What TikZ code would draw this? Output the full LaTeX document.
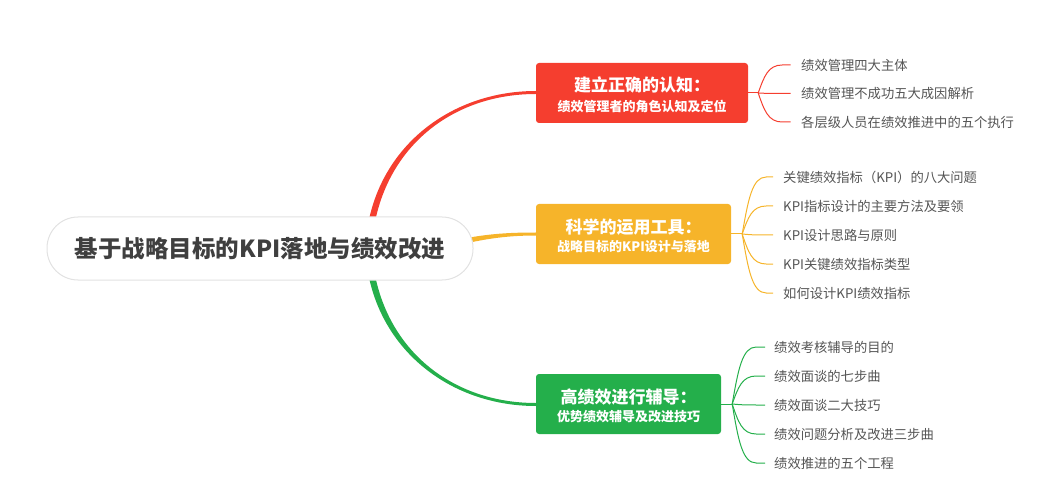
\documentclass[tikz,border=0pt]{standalone}
\usepackage{fontspec}
\setmainfont{Noto Sans CJK SC}
\usetikzlibrary{calc}
\pgfdeclarelayer{bg}
\pgfsetlayers{bg,main}
\definecolor{cred}{HTML}{F53E2F}
\definecolor{cyel}{HTML}{F6B42A}
\definecolor{cgrn}{HTML}{24AF4B}
\definecolor{rootborder}{HTML}{E2E2E2}
\definecolor{roottext}{HTML}{3F3F3F}
\definecolor{leaftext}{HTML}{555555}
\begin{document}
\begin{tikzpicture}[x=1pt,y=-1pt,
 rootbox/.style={draw=rootborder,line width=1pt,fill=white,rounded corners=31pt,minimum width=426pt,minimum height=63pt,inner sep=0pt,text=roottext,font=\bfseries\fontsize{23.5}{24}\selectfont},
 topicbox/.style={rounded corners=3pt,minimum height=60pt,inner sep=0pt},
 titletext/.style={text=white,font=\bfseries\fontsize{17}{17}\selectfont,inner sep=0pt},
 subtext/.style={text=white,font=\bfseries\fontsize{13}{13}\selectfont,inner sep=0pt},
 leaf/.style={text=leaftext,font=\fontsize{13.3}{13.3}\selectfont,inner sep=0pt,anchor=west},
 leafline/.style={line width=1pt}
]
\useasboundingbox (0,0) rectangle (1063,497);

% root
\node[rootbox] (root) at (260,248.5) {基于战略目标的KPI落地与绩效改进};

% topic boxes
\node[topicbox,fill=cred,minimum width=212pt] (rbox) at (642,93) {};
\node[titletext] (rt) at ([yshift=8]rbox.center) {建立正确的认知：};
\node[subtext] (rs) at ([yshift=-13]rbox.center) {绩效管理者的角色认知及定位};

\node[topicbox,fill=cyel,minimum width=195pt] (ybox) at (633.5,234) {};
\node[titletext] (yt) at ([yshift=7]ybox.center) {科学的运用工具：};
\node[subtext] (ys) at ([yshift=-13]ybox.center) {战略目标的KPI设计与落地};

\node[topicbox,fill=cgrn,minimum width=185pt] (gbox) at (628.5,404) {};
\node[titletext] (gt) at ([yshift=7]gbox.center) {高绩效进行辅导：};
\node[subtext] (gs) at ([yshift=-13]gbox.center) {优势绩效辅导及改进技巧};

% leaves
\node[leaf] (r1) at (801,65) {绩效管理四大主体};
\node[leaf] (r2) at (801,93.5) {绩效管理不成功五大成因解析};
\node[leaf] (r3) at (801,122) {各层级人员在绩效推进中的五个执行};

\node[leaf] (y1) at (783,177) {关键绩效指标（KPI）的八大问题};
\node[leaf] (y2) at (783,206) {KPI指标设计的主要方法及要领};
\node[leaf] (y3) at (783,235) {KPI设计思路与原则};
\node[leaf] (y4) at (783,264) {KPI关键绩效指标类型};
\node[leaf] (y5) at (783,293) {如何设计KPI绩效指标};

\node[leaf] (g1) at (774,347) {绩效考核辅导的目的};
\node[leaf] (g2) at (774,376) {绩效面谈的七步曲};
\node[leaf] (g3) at (774,405) {绩效面谈二大技巧};
\node[leaf] (g4) at (774,434) {绩效问题分析及改进三步曲};
\node[leaf] (g5) at (774,463) {绩效推进的五个工程};

\coordinate (rj) at ([xshift=10]rbox.east);
\coordinate (yj) at ([xshift=11]ybox.east);
\coordinate (gj) at ([xshift=11]gbox.east);

\begin{pgfonlayer}{bg}
% main branches (tapered)
\fill[cred] ([xshift=109,yshift=-3]root.north) .. controls +(17,-79) and +(-80,0) .. ([yshift=2]rbox.west)
  -- ([yshift=-1]rbox.west) .. controls +(-80,0) and +(16.5,-77) .. ([xshift=115.5,yshift=-3]root.north) -- cycle;
\fill[cyel] ([xshift=-30,yshift=5.5]root.east) .. controls +(37,-9) and +(-30,0) .. ([yshift=1.5]ybox.west)
  -- ([yshift=-1.5]ybox.west) .. controls +(-30,0) and +(37,-10) .. ([xshift=-30,yshift=-0.5]root.east) -- cycle;
\fill[cgrn] ([xshift=109,yshift=3]root.south) .. controls +(17,79) and +(-80,0) .. ([yshift=-2]gbox.west)
  -- ([yshift=1]gbox.west) .. controls +(-80,0) and +(16.5,77) .. ([xshift=115.5,yshift=3]root.south) -- cycle;

% leaf connectors
\draw[leafline,cred] (rbox.east) -- (rj);
\foreach \i in {1,2,3}{
  \draw[leafline,cred] (rj) .. controls ($(rj)!0.6!(rj|-r\i.west)+(6,0)$) and ($(rj|-r\i.west)+(10,0)$) .. ($(rj|-r\i.west)+(24,0)$) -- ([xshift=-10.5]r\i.west);
}
\draw[leafline,cyel] (ybox.east) -- (yj);
\foreach \i in {1,...,5}{
  \draw[leafline,cyel] (yj) .. controls ($(yj)!0.6!(yj|-y\i.west)+(6,0)$) and ($(yj|-y\i.west)+(10,0)$) .. ($(yj|-y\i.west)+(24,0)$) -- ([xshift=-10]y\i.west);
}
\draw[leafline,cgrn] (gbox.east) -- (gj);
\foreach \i in {1,...,5}{
  \draw[leafline,cgrn] (gj) .. controls ($(gj)!0.6!(gj|-g\i.west)+(6,0)$) and ($(gj|-g\i.west)+(10,0)$) .. ($(gj|-g\i.west)+(24,0)$) -- ([xshift=-9]g\i.west);
}
\end{pgfonlayer}
\end{tikzpicture}
\end{document}
